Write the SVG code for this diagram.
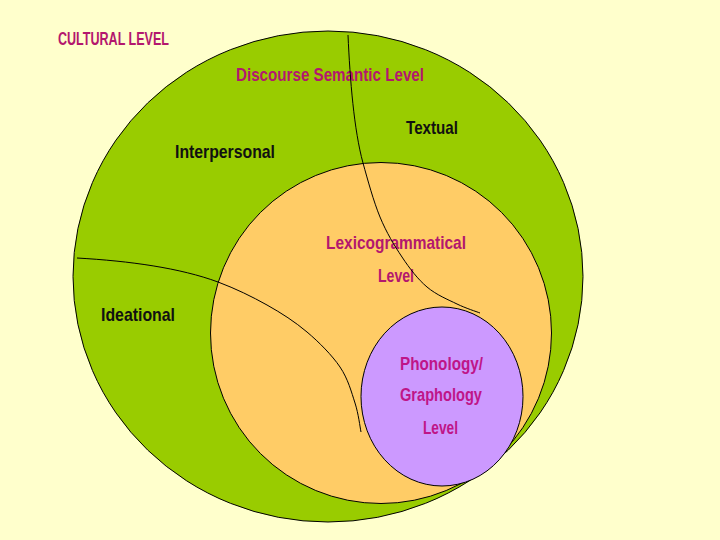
<svg xmlns="http://www.w3.org/2000/svg" width="720" height="540" viewBox="0 0 720 540">
<style>
.region{stroke:#000;stroke-width:1}
.lbl{font-family:"Liberation Sans Narrow","Liberation Sans",Arial,sans-serif;font-weight:bold;font-size:19px}
.mag{fill:#B3176E}
.pur{fill:#BF1588}
.blk{fill:#111}
.conn{fill:none;stroke:#000;stroke-width:1}
</style>
<rect x="0" y="0" width="720" height="540" fill="#FFFFCC"/>
<text class="lbl mag" x="58" y="45" textLength="111" lengthAdjust="spacingAndGlyphs">CULTURAL LEVEL</text>
<g id="discourse">
<ellipse class="region" cx="328" cy="276.5" rx="255" ry="245.5" fill="#99CC00"/>
<text class="lbl mag" x="236" y="81" textLength="188" lengthAdjust="spacingAndGlyphs">Discourse Semantic Level</text>
<text class="lbl blk" x="175" y="158" textLength="100" lengthAdjust="spacingAndGlyphs">Interpersonal</text>
<text class="lbl blk" x="406" y="134" textLength="52" lengthAdjust="spacingAndGlyphs">Textual</text>
<text class="lbl blk" x="101" y="321" textLength="74" lengthAdjust="spacingAndGlyphs">Ideational</text>
</g>
<g id="lexicogrammar">
<circle class="region" cx="381" cy="333" r="170.5" fill="#FFCC66"/>
<text class="lbl mag" x="326" y="249" textLength="140" lengthAdjust="spacingAndGlyphs">Lexicogrammatical</text>
<text class="lbl mag" x="378" y="282" textLength="36" lengthAdjust="spacingAndGlyphs">Level</text>
</g>
<g id="phonology">
<ellipse class="region" cx="442" cy="396.5" rx="81" ry="89.5" fill="#CC99FF"/>
<text class="lbl pur" x="400" y="370" textLength="83" lengthAdjust="spacingAndGlyphs">Phonology/</text>
<text class="lbl pur" x="400" y="401" textLength="82" lengthAdjust="spacingAndGlyphs">Graphology</text>
<text class="lbl pur" x="423" y="434" textLength="35" lengthAdjust="spacingAndGlyphs">Level</text>
</g>
<g id="connectors">
<path class="conn" d="M348,35 C350,80 354,130 363,163 C367.5,179.2 373.5,201.3 380,217 C386.5,232.7 394.2,245.3 402,257 C409.8,268.7 417.8,279.2 427,287 C436.2,294.8 448.2,299.7 457,304 C465.8,308.3 476.2,311.5 480,313"/>
<path class="conn" d="M77,258 C130,261 180,268 218,282 C235.8,288.7 252.2,296.7 267,305 C281.8,313.3 294.8,321.7 307,332 C319.2,342.3 332,355.2 340,367 C348,378.8 351.5,392.2 355,403 C358.5,413.8 360,427.2 361,432"/>
</g>
</svg>
